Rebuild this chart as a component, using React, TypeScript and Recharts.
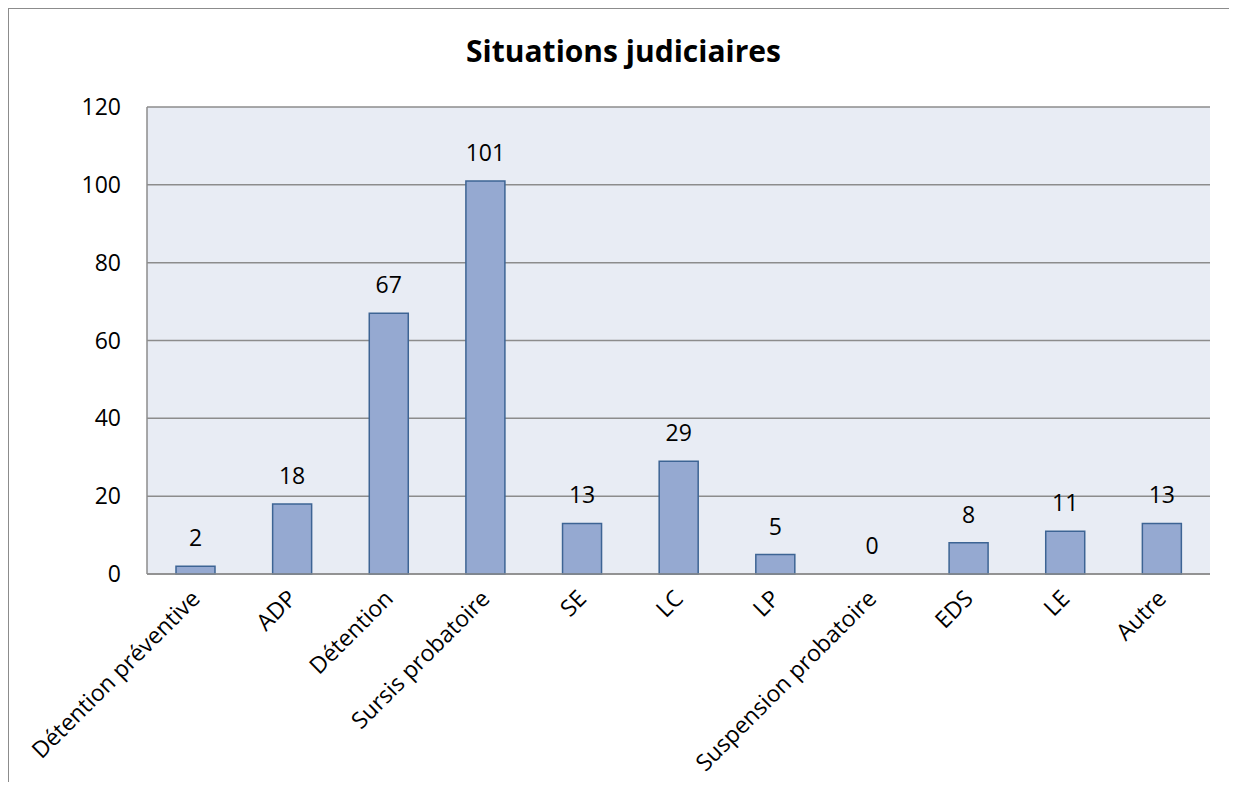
import { Bar, BarChart, CartesianGrid, Cell, LabelList, XAxis, YAxis } from 'recharts'

const categories = [
  'Détention préventive',
  'ADP',
  'Détention',
  'Sursis probatoire',
  'SE',
  'LC',
  'LP',
  'Suspension probatoire',
  'EDS',
  'LE',
  'Autre'
]
const counts = [2, 18, 67, 101, 13, 29, 5, 0, 8, 11, 13]
const yTicks = [0, 20, 40, 60, 80, 100, 120]

const data = categories.map((name, i) => ({ name, value: counts[i] }))

const font = '"Open Sans", sans-serif'

const AngledTick = (props: any) => {
  const { x, y, payload } = props
  return (
    <g transform={`translate(${x + 6},${y + 26})`}>
      <text transform="rotate(-45)" textAnchor="end" fontSize={23} fontFamily={font} fill="#000">
        {payload.value}
      </text>
    </g>
  )
}

// zero-valued bars still need their "0" label, so give them a hairline height
const minSize = (value: any) => (value === 0 ? 0.01 : 0)

export default function App() {
  return (
    <div
      style={{
        position: 'relative',
        width: 1221,
        height: 773,
        borderTop: '1.5px solid #8c8c8c',
        borderLeft: '1.5px solid #8c8c8c',
        background: '#fff',
        overflow: 'hidden'
      }}
    >
      <div
        style={{
          position: 'absolute',
          top: 21,
          left: 0,
          width: 1229,
          textAlign: 'center',
          fontFamily: font,
          fontWeight: 700,
          fontSize: 30,
          lineHeight: 'normal',
          color: '#000'
        }}
      >
        Situations judiciaires
      </div>
      <BarChart
        width={1220}
        height={772}
        data={data}
        margin={{ top: 98, right: 19, bottom: 0, left: 0 }}
        barSize={39}
      >
        <CartesianGrid vertical={false} fill="#e8ecf4" stroke="#8c8c8c" strokeWidth={1.5} />
        <XAxis
          dataKey="name"
          interval={0}
          height={207}
          tick={<AngledTick />}
          tickLine={false}
          tickSize={0}
          tickMargin={0}
          axisLine={{ stroke: '#8c8c8c', strokeWidth: 1.5 }}
        />
        <YAxis
          domain={[0, 120]}
          ticks={yTicks}
          width={138}
          tickLine={false}
          tickSize={0}
          tickMargin={26}
          axisLine={{ stroke: '#8c8c8c', strokeWidth: 1.5 }}
          tick={{ fontSize: 23, fontFamily: font, fill: '#000' }}
        />
        <Bar
          dataKey="value"
          fill="#95a9d1"
          stroke="#3d6494"
          strokeWidth={1.5}
          minPointSize={minSize}
          isAnimationActive={false}
        >
          {data.map((d) => (
            <Cell key={d.name} stroke={d.value === 0 ? 'none' : '#3d6494'} />
          ))}
          <LabelList
            dataKey="value"
            position="top"
            offset={20}
            fontSize={23}
            fontFamily={font}
            fill="#000"
          />
        </Bar>
      </BarChart>
    </div>
  )
}
